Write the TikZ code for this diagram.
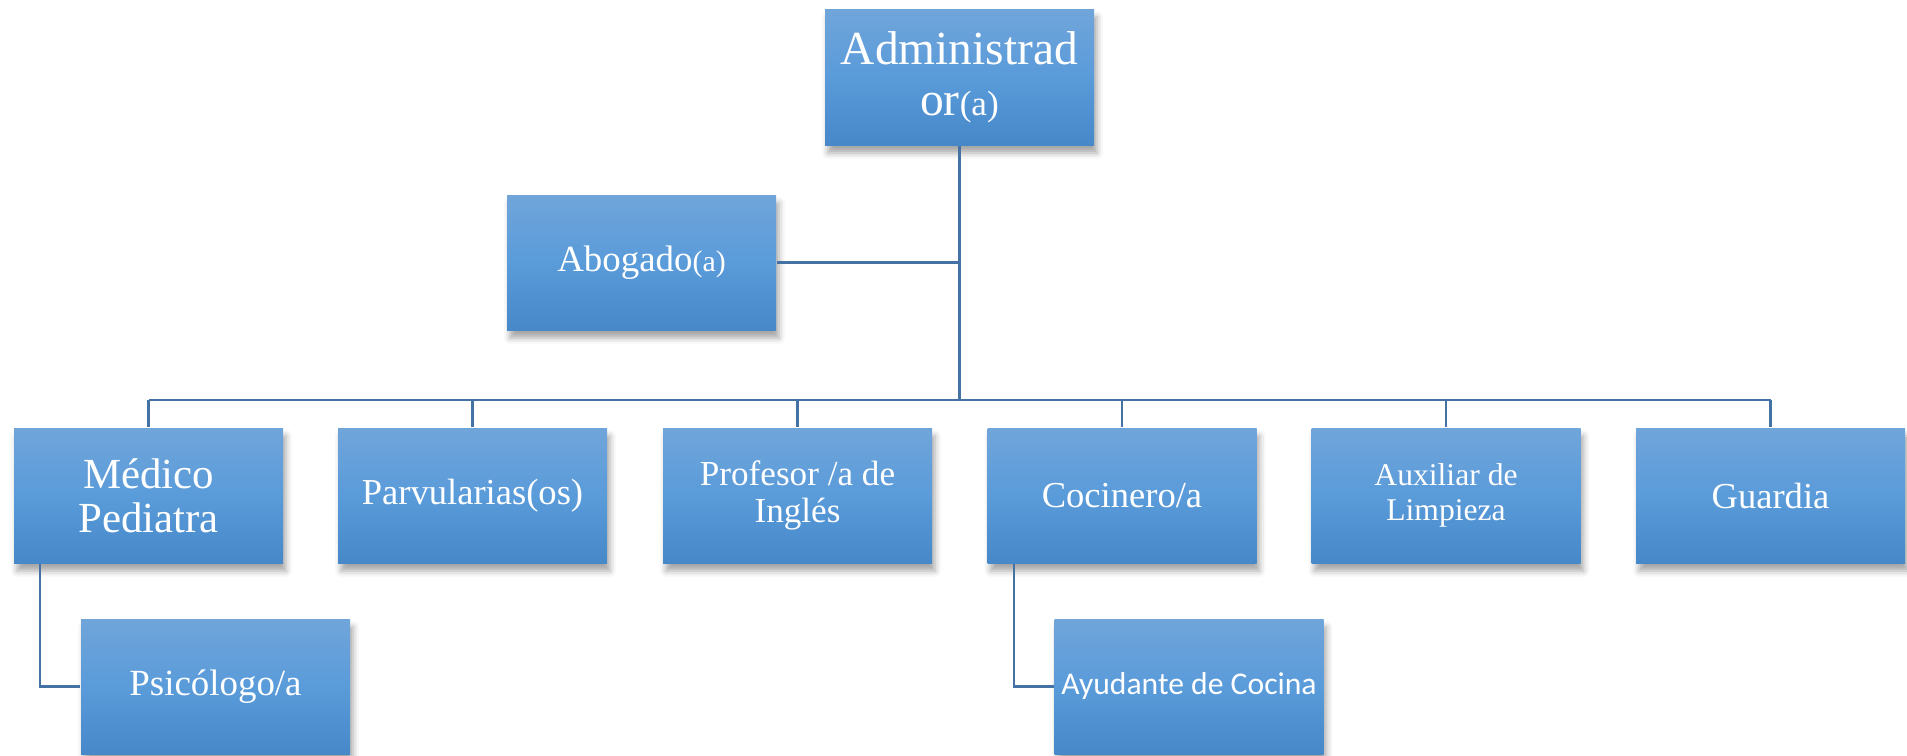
\documentclass[tikz,border=0pt]{standalone}
\usepackage{fontspec}
\setmainfont{Liberation Serif}
\newfontfamily\sansfam{Carlito}
\usetikzlibrary{shadows.blur}
\definecolor{boxtop}{HTML}{70A5DA}
\definecolor{boxmid}{HTML}{5A9BDA}
\definecolor{boxbot}{HTML}{4688C8}
\definecolor{linkblue}{HTML}{4472A4}
\tikzset{cargo/.style={rectangle, minimum width=26.9mm, minimum height=13.5mm,
    top color=boxtop, bottom color=boxbot, middle color=boxmid,
    text=white, align=center, inner sep=1pt,
    blur shadow={shadow xshift=0.3mm, shadow yshift=-0.8mm,
      shadow blur radius=0.6mm, shadow opacity=35}},
  enlace/.style={draw=linkblue, line width=0.6pt}
}
\newcommand{\fs}[2]{\fontsize{#1}{#2}\selectfont}

\begin{document}
\begin{tikzpicture}[x=0.1mm, y=-0.1mm]
      \useasboundingbox (0,0) rectangle (1907,755);
      \coordinate (bus) at (0,400);
      \node[cargo, minimum height=13.6mm, font=\fs{13.5}{14.6}] (admin) at (959.5,77) {Administrad\\or{\fs{10}{10}(a)}};
      \node[cargo, font=\fs{10.5}{12}] (abogado) at (641.5,262.5) {Abogado{\fs{8.5}{10}(a)}};
      \node[cargo, font=\fs{12.2}{12.6}] (medico) at (148.5,495.5) {Médico\\Pediatra};
      \node[cargo, font=\fs{10.4}{12}] (parvu) at (472.5,495.5) {Parvularias(os)};
      \node[cargo, font=\fs{10}{10.5}] (profesor) at (797.5,495.5) {Profesor /a de\\Inglés};
      \node[cargo, font=\fs{10.4}{12}] (cocinero) at (1122,495.5) {Cocinero/a};
      \node[cargo, font=\fs{9}{10}] (auxiliar) at (1446,495.5) {Auxiliar de\\Limpieza};
      \node[cargo, font=\fs{10.4}{12}] (guardia) at (1770.5,495.5) {Guardia};
      \node[cargo, font=\fs{10.5}{12}] (psico) at (215.5,686.5) {Psicólogo/a};
      \node[cargo, font=\sansfam\fs{9}{11}] (ayudante) at (1189,686.5) {Ayudante de Cocina};
      % connectors
      \draw[enlace] (admin) -- (admin |- bus);
      \draw[enlace] (abogado) -- (abogado -| admin);
      \draw[enlace] (medico |- bus) -- (guardia |- bus);
      \foreach \n in {medico, parvu, profesor, cocinero, auxiliar, guardia}
        \draw[enlace] (\n |- bus) -- (\n.north);
      \draw[enlace] ([xshift=2.7mm]medico.south west) |- (psico.west);
      \draw[enlace] ([xshift=2.7mm]cocinero.south west) |- (ayudante.west);
    \end{tikzpicture}
\end{document}
